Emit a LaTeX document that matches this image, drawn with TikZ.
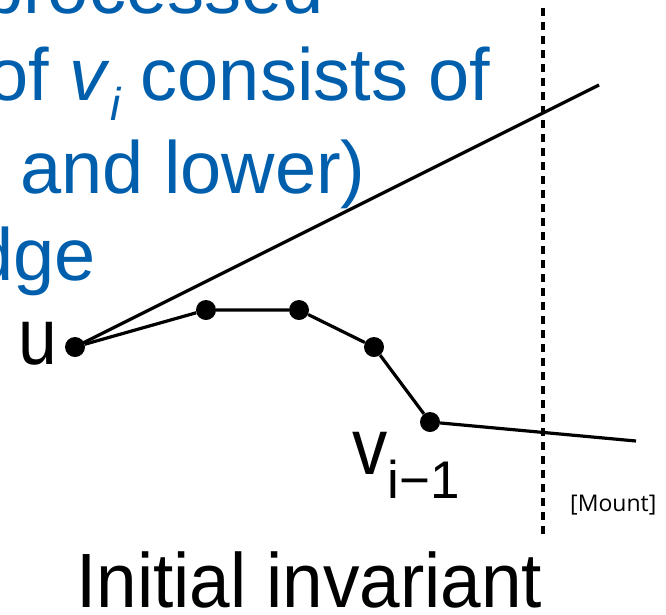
\documentclass[tikz,border=0pt]{standalone}
\usepackage{fontspec}
\setmainfont{Liberation Sans}
\newfontfamily\opensans{Open Sans}
\definecolor{slideblue}{RGB}{0,95,172}
\begin{document}
\begin{tikzpicture}[x=1pt,y=-1pt,
  dot/.style={circle,fill=black,inner sep=0pt,minimum size=20pt},
  seg/.style={line width=3.2pt,black},
  bluetext/.style={text=slideblue,font=\fontsize{74}{74}\selectfont,inner sep=0pt},
  lbl/.style={font=\fontsize{80}{80}\selectfont,inner sep=0pt}]
\useasboundingbox (0,0) rectangle (666,614);
\begin{scope}
\clip (0,0) rectangle (666,614);
% blue slide text (cropped)
\node[bluetext,anchor=base west] (t1) at (-18,13) {processed};
\node[bluetext,anchor=base west] (t2) at (-13,100) {of \textit{v}\raisebox{-20pt}{\fontsize{46}{46}\selectfont\itshape i} consists of};
\node[bluetext,anchor=base west] (t3) at (20,193) {and lower)};
\node[bluetext,anchor=base east] (t4) at (96,280) {dge};
% dashed divider
\coordinate (dtop) at (543,8);
\coordinate (dbot) at (543,536);
\draw[line width=3.5pt,dash pattern=on 8pt off 6pt] (dtop) -- (dbot);
% points
\node[dot] (u) at (75,347) {};
\node[dot] (p1) at (206,310) {};
\node[dot] (p2) at (299,310) {};
\node[dot] (p3) at (374,347) {};
\node[dot] (v) at (430,422) {};
\coordinate (uend) at (599,85);
\coordinate (lend) at (636,441);
\draw[seg] (u.center) -- (uend);
\draw[seg] (u) -- (p1) -- (p2) -- (p3) -- (v) -- (lend);
% labels
\node[lbl,anchor=base east] (ulab) at (57,364) {\scalebox{0.87}[1]{u}};
\node[lbl,anchor=base west] (vlab) at (352,474) {\scalebox{0.88}[1]{v}\raisebox{-24pt}{\fontsize{53}{53}\selectfont i−1}};
\node[inner sep=0pt,anchor=base west,font=\opensans\fontsize{23}{23}\selectfont] (mount) at (570,511) {[Mount]};
\node[inner sep=0pt,anchor=base west,font=\fontsize{77}{77}\selectfont] (title) at (76,607) {\scalebox{0.947}[1]{Initial invariant}};
\end{scope}
\end{tikzpicture}
\end{document}
